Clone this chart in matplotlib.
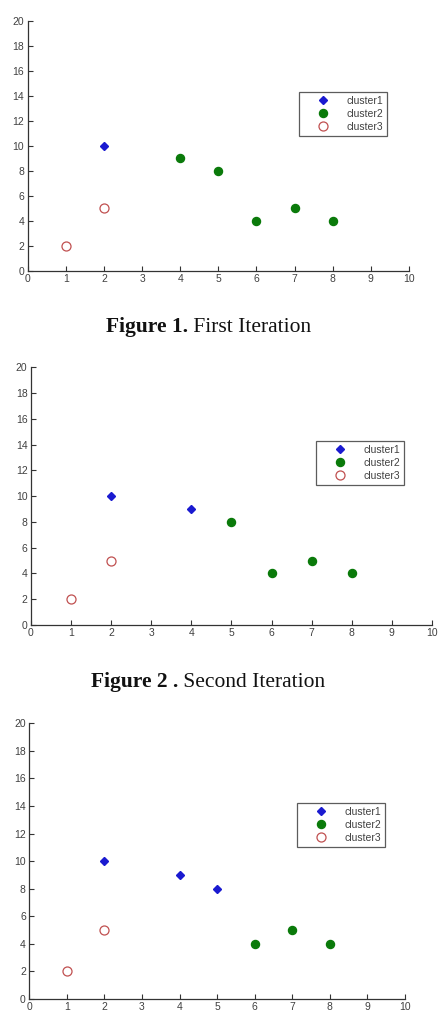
import matplotlib
matplotlib.use("Agg")
import matplotlib.pyplot as plt

W, H = 439, 1028

# data per iteration
it1_c1_x = [2]; it1_c1_y = [10]
it1_c2_x = [4, 5, 6, 7, 8]; it1_c2_y = [9, 8, 4, 5, 4]
it1_c3_x = [1, 2]; it1_c3_y = [2, 5]

it2_c1_x = [2, 4]; it2_c1_y = [10, 9]
it2_c2_x = [5, 6, 7, 8]; it2_c2_y = [8, 4, 5, 4]
it2_c3_x = [1, 2]; it2_c3_y = [2, 5]

it3_c1_x = [2, 4, 5]; it3_c1_y = [10, 9, 8]
it3_c2_x = [6, 7, 8]; it3_c2_y = [4, 5, 4]
it3_c3_x = [1, 2]; it3_c3_y = [2, 5]

labels = ["cluster1", "cluster2", "cluster3"]
x_ticks = list(range(0, 11))
y_ticks = list(range(0, 21, 2))

captions = [("Figure 1.", " First Iteration"),
            ("Figure 2 .", " Second Iteration")]

fig = plt.figure(figsize=(W / 100, H / 100), dpi=100)
fig.patch.set_facecolor("white")

# axes pixel boxes: left, right, top, bottom
boxes = [(27.7, 409, 20.7, 270.7), (31, 432, 367.3, 625), (29.3, 405, 723.3, 999)]
legend_pos = [(299, 92), (316, 441), (297, 803)]

data = [
    (it1_c1_x, it1_c1_y, it1_c2_x, it1_c2_y, it1_c3_x, it1_c3_y),
    (it2_c1_x, it2_c1_y, it2_c2_x, it2_c2_y, it2_c3_x, it2_c3_y),
    (it3_c1_x, it3_c1_y, it3_c2_x, it3_c2_y, it3_c3_x, it3_c3_y),
]

txt_color = "#404040"
fs = 7.5
for (l, r, t, b), (lx, ly), d in zip(boxes, legend_pos, data):
    ax = fig.add_axes([l / W, 1 - b / H, (r - l) / W, (b - t) / H])
    c1x, c1y, c2x, c2y, c3x, c3y = d
    ax.plot(c1x, c1y, linestyle="none", marker="D", markersize=4.0,
            color="#1a1ad0", label=labels[0])
    ax.plot(c2x, c2y, linestyle="none", marker="o", markersize=5.8,
            color="#0a7a0a", label=labels[1])
    ax.plot(c3x, c3y, linestyle="none", marker="o", markersize=6.5,
            markerfacecolor="white", markeredgecolor="#c05050",
            markeredgewidth=0.9, label=labels[2])
    ax.set_xlim(0, 10)
    ax.set_ylim(0, 20)
    ax.set_xticks(x_ticks)
    ax.set_yticks(y_ticks)
    for s in ["top", "right"]:
        ax.spines[s].set_visible(False)
    for s in ["left", "bottom"]:
        ax.spines[s].set_color("#333333")
        ax.spines[s].set_linewidth(0.9)
    ax.tick_params(direction="in", length=3.5, width=0.8, colors="#333333",
                   labelsize=fs, labelcolor=txt_color, pad=2.5)
    for lab in ax.get_xticklabels() + ax.get_yticklabels():
        lab.set_family("Liberation Sans")
    leg = ax.legend(loc="upper left", bbox_to_anchor=(lx / W, 1 - ly / H),
                    bbox_transform=fig.transFigure, borderaxespad=0,
                    frameon=True, fancybox=False, edgecolor="#333333",
                    prop={"family": "Liberation Sans", "size": fs},
                    handletextpad=0.3, handlelength=3.9, labelspacing=0.3,
                    borderpad=0.35, numpoints=1)
    leg.get_frame().set_linewidth(0.9)
    for tx in leg.get_texts():
        tx.set_color(txt_color)

# captions
fig.canvas.draw()
renderer = fig.canvas.get_renderer()
cap_y = [332, 687]
cap_center = [209, 208]
for (bold, reg), yb, xc in zip(captions, cap_y, cap_center):
    t1 = fig.text(0, 0, bold, fontsize=15.5, fontweight="bold",
                  family="Liberation Serif", color="#111111", va="baseline")
    t2 = fig.text(0, 0, reg, fontsize=15.5, family="Liberation Serif",
                  color="#111111", va="baseline")
    w1 = t1.get_window_extent(renderer).width
    w2 = t2.get_window_extent(renderer).width
    x0 = xc - (w1 + w2) / 2
    t1.set_position((x0 / W, 1 - yb / H))
    t2.set_position(((x0 + w1) / W, 1 - yb / H))

fig.savefig("out.png", dpi=100, facecolor="white")
